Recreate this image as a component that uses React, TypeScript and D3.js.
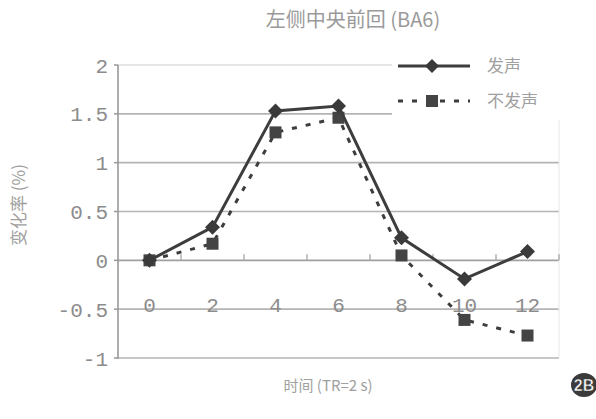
import React from "react";
import * as d3 from "d3";

const categories = ["0", "2", "4", "6", "8", "10", "12"];
const voiced = [0, 0.34, 1.53, 1.58, 0.23, -0.19, 0.09];
const silent = [0, 0.17, 1.31, 1.46, 0.05, -0.61, -0.77];
const yTicks = [2, 1.5, 1, 0.5, 0, -0.5, -1];
const yTickLabels = ["2", "1.5", "1", "0.5", "0", "-0.5", "-1"];
const seriesNames = ["发声", "不发声"];
const title = "左侧中央前回 (BA6)";
const yTitle = "变化率 (%)";
const xTitle = "时间 (TR=2 s)";

const W = 596;
const H = 419;
const left = 118;
const right = 559;
const top = 65;
const bottom = 358;

const textColor = "#8c8c8c";
const lineColor = "#3d3d3d";
const gridColor = "#b4b4b4";
const numFont = "'Liberation Mono', monospace";
const cjkFont = "'Noto Sans CJK SC', sans-serif";

export default function App() {
  const x = d3.scaleBand<string>().domain(categories).range([left, right]).padding(0);
  const y = d3.scaleLinear().domain([-1, 2]).range([bottom, top]);
  const cx = (c: string) => (x(c) as number) + x.bandwidth() / 2;

  const line = d3
    .line<number>()
    .x((_, i) => cx(categories[i]))
    .y((d) => y(d));

  const diamond = (px: number, py: number, r: number) =>
    `M${px},${py - r}L${px + r},${py}L${px},${py + r}L${px - r},${py}Z`;

  const legX1 = 398;
  const legX2 = 470;
  const legY1 = 66;
  const legY2 = 101;

  return (
    <svg
      width={W}
      height={H}
      style={{ position: "absolute", left: 0, top: 0, background: "#fff" }}
    >
      <rect x={0} y={0} width={W} height={H} fill="#fff" />
      {/* title */}
      <text
        x={353}
        y={27}
        textAnchor="middle"
        fontFamily={cjkFont}
        fontSize={20}
        fill="#9a9a9a"
      >
        {title}
      </text>
      {/* gridlines */}
      {yTicks.map((t, i) => (
        <line
          key={"g" + i}
          x1={left}
          x2={right}
          y1={y(t)}
          y2={y(t)}
          stroke={t === 2 ? "#dddddd" : t === 0 ? "#a0a0a0" : gridColor}
          strokeWidth={1.6}
        />
      ))}
      {/* right faint border */}
      <line x1={right} x2={right} y1={top} y2={bottom} stroke="#e6e6e6" strokeWidth={1} />
      {/* legend background */}
      <rect x={392} y={44} width={170} height={76} fill="#fff" />
      {/* y axis */}
      <line x1={left} x2={left} y1={top} y2={bottom + 1} stroke="#999" strokeWidth={1.6} />
      {yTicks.map((t, i) => (
        <g key={"yt" + i}>
          <line x1={left - 4} x2={left} y1={y(t)} y2={y(t)} stroke="#999" strokeWidth={1.5} />
          <text
            x={108}
            y={y(t)}
            dy="0.36em"
            textAnchor="end"
            fontFamily={numFont}
            fontSize={21}
            fill={textColor}
          >
            {yTickLabels[i]}
          </text>
        </g>
      ))}
      {/* x category ticks on zero line */}
      {categories.map((c, i) => (
        <line
          key={"xt" + i}
          x1={(x(c) as number) + x.bandwidth()}
          x2={(x(c) as number) + x.bandwidth()}
          y1={y(0) - 6}
          y2={y(0)}
          stroke="#aaa"
          strokeWidth={1.4}
        />
      ))}
      {categories.map((c, i) => (
        <text
          key={"xl" + i}
          x={cx(c)}
          y={y(0) + 52}
          textAnchor="middle"
          fontFamily={numFont}
          fontSize={21}
          fill={textColor}
        >
          {c}
        </text>
      ))}
      {/* y title */}
      <text
        transform={`translate(19,${205}) rotate(-90)`}
        textAnchor="middle"
        dy="0.35em"
        fontFamily={cjkFont}
        fontSize={17}
        fill="#a0a0a0"
      >
        {yTitle}
      </text>
      {/* x title */}
      <text
        x={328}
        y={391}
        textAnchor="middle"
        fontFamily={cjkFont}
        fontSize={15}
        fill="#a0a0a0"
      >
        {xTitle}
      </text>
      {/* series: silent (dashed) */}
      <path
        d={line(silent) || ""}
        fill="none"
        stroke={lineColor}
        strokeWidth={3}
        strokeDasharray="5,9"
      />
      {silent.map((v, i) => (
        <rect
          key={"s" + i}
          x={cx(categories[i]) - 6}
          y={y(v) - 6}
          width={12}
          height={12}
          fill="#444"
        />
      ))}
      {/* series: voiced (solid) */}
      <path d={line(voiced) || ""} fill="none" stroke={lineColor} strokeWidth={3} />
      {voiced.map((v, i) => (
        <path key={"v" + i} d={diamond(cx(categories[i]), y(v), 7.5)} fill="#3a3a3a" />
      ))}
      {/* legend */}
      <line x1={legX1} x2={legX2} y1={legY1} y2={legY1} stroke={lineColor} strokeWidth={3} />
      <path d={diamond(432, legY1, 7)} fill="#3a3a3a" />
      <text
        x={487}
        y={legY1}
        dy="0.36em"
        fontFamily={cjkFont}
        fontSize={17}
        fill="#a0a0a0"
      >
        {seriesNames[0]}
      </text>
      <line
        x1={legX1}
        x2={legX2}
        y1={legY2}
        y2={legY2}
        stroke={lineColor}
        strokeWidth={3}
        strokeDasharray="5,9"
      />
      <rect x={426} y={legY2 - 6} width={12} height={12} fill="#444" />
      <text
        x={487}
        y={legY2}
        dy="0.36em"
        fontFamily={cjkFont}
        fontSize={17}
        fill="#a0a0a0"
      >
        {seriesNames[1]}
      </text>
      {/* badge */}
      <ellipse cx={584} cy={385} rx={13} ry={12} fill="#3a3a3a" />
      <text
        x={584}
        y={385}
        dy="0.36em"
        textAnchor="middle"
        fontFamily="'Liberation Sans', sans-serif"
        fontWeight="bold"
        fontSize={16}
        fill="#fff"
        stroke="#3a3a3a"
        strokeWidth={0.5}
      >
        2B
      </text>
    </svg>
  );
}
